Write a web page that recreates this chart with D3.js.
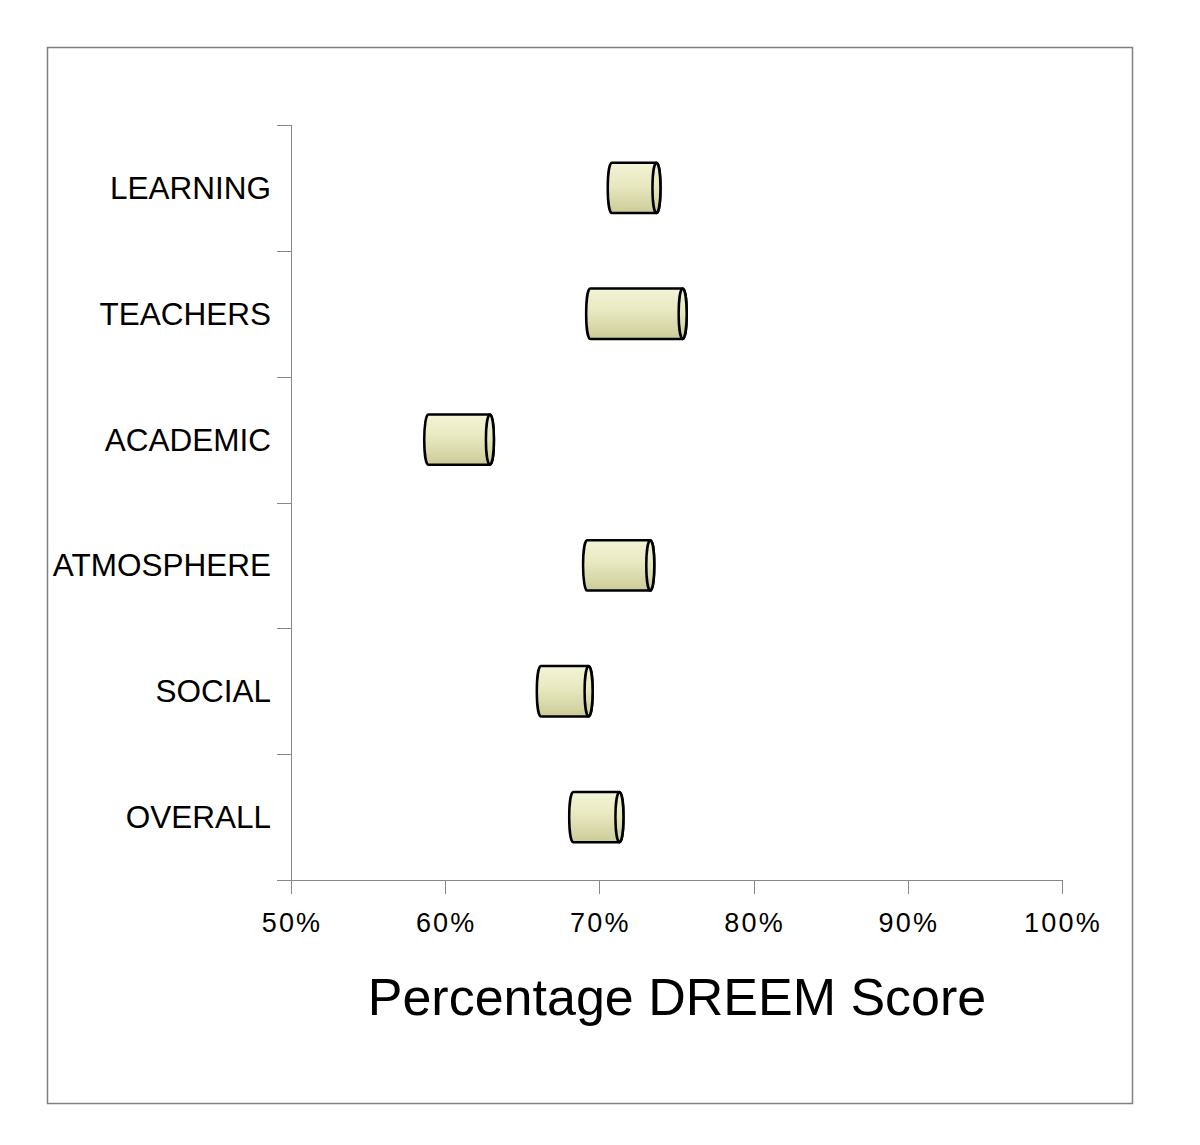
<!DOCTYPE html>
<html>
<head>
<meta charset="utf-8">
<script src="https://cdn.jsdelivr.net/npm/d3@7"></script>
<style>
  body { margin: 0; background: #fff; }
  text { font-family: "Liberation Sans", Arial, sans-serif; fill: #000; }
</style>
</head>
<body>
<svg id="chart" width="1200" height="1145"></svg>
<script>
// categories top to bottom
let categories = ['LEARNING', 'TEACHERS', 'ACADEMIC', 'ATMOSPHERE', 'SOCIAL', 'OVERALL'];
// floating bar start and end, percent
let lowValues = [70.8, 69.4, 58.9, 69.2, 66.2, 68.3];
let highValues = [73.7, 75.4, 62.9, 73.3, 69.3, 71.3];
let xTicks = [50, 60, 70, 80, 90, 100];

let svg = d3.select('#chart');

// outer frame
svg.append('rect')
    .attr('x', 47.5).attr('y', 47.5)
    .attr('width', 1085).attr('height', 1056)
    .attr('fill', 'none')
    .attr('stroke', '#808080')
    .attr('stroke-width', 1.5);

let plotLeft = 291, plotRight = 1062, plotTop = 125, plotBottom = 880;

let x = d3.scaleLinear().domain([50, 100]).range([plotLeft, plotRight]);
let y = d3.scaleBand().domain(categories).range([plotTop, plotBottom]);

// gradient for cylinders
let defs = svg.append('defs');
let grad = defs.append('linearGradient')
    .attr('id', 'cyl').attr('x1', 0).attr('y1', 0).attr('x2', 0).attr('y2', 1);
grad.append('stop').attr('offset', '0%').attr('stop-color', '#f4f4d8');
grad.append('stop').attr('offset', '45%').attr('stop-color', '#e8e8c0');
grad.append('stop').attr('offset', '100%').attr('stop-color', '#cbcb98');

// y axis line and ticks
let axisColor = '#888';
svg.append('line')
    .attr('x1', plotLeft + 0.5).attr('x2', plotLeft + 0.5)
    .attr('y1', plotTop).attr('y2', plotBottom + 14)
    .attr('stroke', axisColor).attr('stroke-width', 1);

let yTickPos = categories.map(c => y(c)).concat([plotBottom]);
svg.selectAll('line.ytick')
    .data(yTickPos)
    .enter().append('line')
    .attr('class', 'ytick')
    .attr('x1', plotLeft - 14).attr('x2', plotLeft)
    .attr('y1', d => Math.round(d) + 0.5).attr('y2', d => Math.round(d) + 0.5)
    .attr('stroke', axisColor);

// x axis
svg.append('line')
    .attr('x1', plotLeft).attr('x2', plotRight)
    .attr('y1', plotBottom + 0.5).attr('y2', plotBottom + 0.5)
    .attr('stroke', axisColor);

svg.selectAll('line.xtick')
    .data(xTicks)
    .enter().append('line')
    .attr('class', 'xtick')
    .attr('x1', d => Math.round(x(d)) + 0.5).attr('x2', d => Math.round(x(d)) + 0.5)
    .attr('y1', plotBottom).attr('y2', plotBottom + 14)
    .attr('stroke', axisColor);

svg.selectAll('text.xlab')
    .data(xTicks)
    .enter().append('text')
    .attr('class', 'xlab')
    .attr('x', d => x(d) + 1)
    .attr('y', 932)
    .attr('text-anchor', 'middle')
    .attr('font-size', 27)
    .attr('letter-spacing', 2.2)
    .text(d => d + '%');

// category labels
svg.selectAll('text.ylab')
    .data(categories)
    .enter().append('text')
    .attr('class', 'ylab')
    .attr('x', 271)
    .attr('y', d => y(d) + y.bandwidth() / 2 + 11)
    .attr('text-anchor', 'end')
    .attr('font-size', 31.5)
    .text(d => d);

// axis title
svg.append('text')
    .attr('x', 677).attr('y', 1015)
    .attr('text-anchor', 'middle')
    .attr('font-size', 52)
    .text('Percentage DREEM Score');

// cylinders
let barH = y.bandwidth() * 0.4;
let rx = 4;
let bars = svg.selectAll('g.bar')
    .data(categories.map((c, i) => ({cat: c, lo: lowValues[i], hi: highValues[i]})))
    .enter().append('g')
    .attr('class', 'bar');

bars.append('path')
    .attr('d', d => {
        let x0 = x(d.lo), x1 = x(d.hi);
        let t = y(d.cat) + (y.bandwidth() - barH) / 2, b = t + barH;
        let ry = barH / 2;
        return `M ${x0} ${t} L ${x1} ${t} A ${rx} ${ry} 0 0 1 ${x1} ${b}
                L ${x0} ${b} A ${rx} ${ry} 0 0 1 ${x0} ${t} Z`;
    })
    .attr('fill', 'url(#cyl)')
    .attr('stroke', '#000')
    .attr('stroke-width', 2.5)
    .attr('stroke-linejoin', 'round');

bars.append('ellipse')
    .attr('cx', d => x(d.hi))
    .attr('cy', d => y(d.cat) + y.bandwidth() / 2)
    .attr('rx', rx)
    .attr('ry', barH / 2)
    .attr('fill', 'url(#cyl)')
    .attr('stroke', '#000')
    .attr('stroke-width', 2.5);
</script>
</body>
</html>
